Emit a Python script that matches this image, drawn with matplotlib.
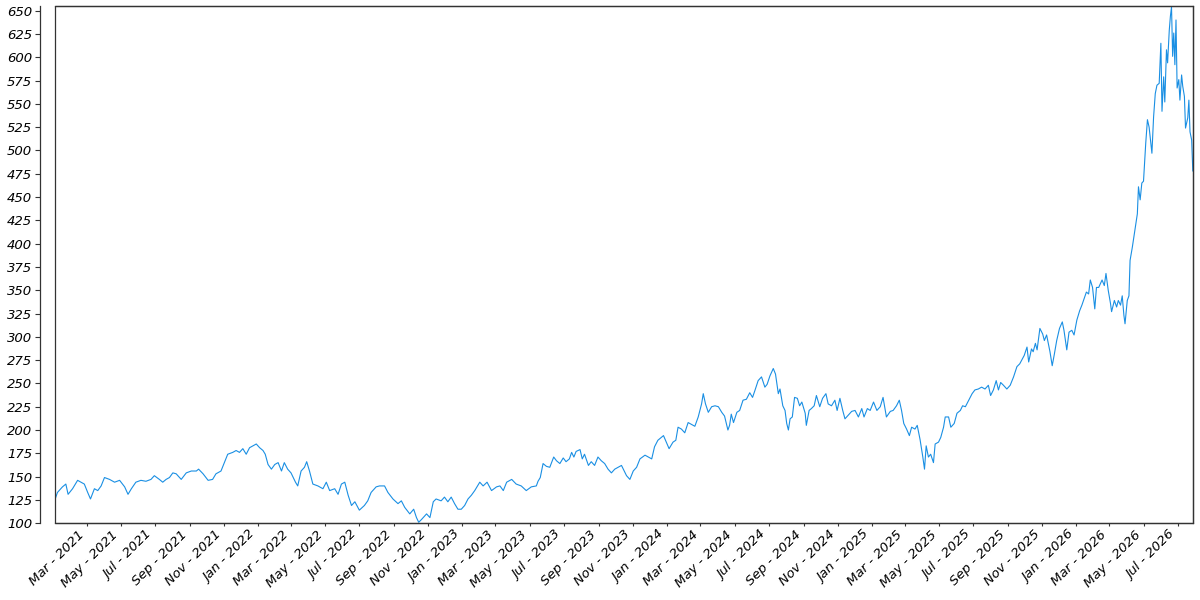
import matplotlib
matplotlib.use('Agg')
import matplotlib.pyplot as plt
import matplotlib.dates as mdates
from matplotlib.patches import Rectangle
from matplotlib.ticker import MultipleLocator
import pandas as pd

# Price readings (date, close) taken off the reference chart
dates = [
    # 2021
    '2021-01-04', '2021-01-08', '2021-01-17', '2021-01-23', '2021-01-27', '2021-02-04',
    '2021-02-13', '2021-02-19', '2021-02-25', '2021-03-03', '2021-03-08', '2021-03-15',
    '2021-03-21', '2021-03-27', '2021-04-02', '2021-04-11', '2021-04-20', '2021-04-29',
    '2021-05-08', '2021-05-14', '2021-05-20', '2021-05-28', '2021-06-06', '2021-06-15',
    '2021-06-24', '2021-06-30', '2021-07-09', '2021-07-15', '2021-07-21', '2021-07-27',
    '2021-08-02', '2021-08-08', '2021-08-17', '2021-08-26', '2021-09-04', '2021-09-13',
    '2021-09-17', '2021-09-25', '2021-10-04', '2021-10-12', '2021-10-18', '2021-10-27',
    '2021-11-02', '2021-11-08', '2021-11-17', '2021-11-23', '2021-11-29', '2021-12-05',
    '2021-12-11', '2021-12-17', '2021-12-23', '2021-12-29',
    # 2022
    '2022-01-04', '2022-01-10', '2022-01-14', '2022-01-19', '2022-01-25', '2022-01-31',
    '2022-02-06', '2022-02-12', '2022-02-17', '2022-02-23', '2022-03-01', '2022-03-09',
    '2022-03-13', '2022-03-19', '2022-03-25', '2022-03-29', '2022-04-03', '2022-04-09',
    '2022-04-18', '2022-04-27', '2022-05-03', '2022-05-09', '2022-05-18', '2022-05-24',
    '2022-05-30', '2022-06-05', '2022-06-11', '2022-06-17', '2022-06-23', '2022-07-01',
    '2022-07-10', '2022-07-16', '2022-07-22', '2022-07-31', '2022-08-06', '2022-08-15',
    '2022-08-21', '2022-08-30', '2022-09-08', '2022-09-14', '2022-09-20', '2022-09-29',
    '2022-10-06', '2022-10-11', '2022-10-15', '2022-10-20', '2022-10-29', '2022-11-04',
    '2022-11-10', '2022-11-15', '2022-11-24', '2022-11-30', '2022-12-06', '2022-12-12',
    '2022-12-18', '2022-12-24', '2022-12-30',
    # 2023
    '2023-01-05', '2023-01-11', '2023-01-17', '2023-01-23', '2023-02-01', '2023-02-07',
    '2023-02-14', '2023-02-22', '2023-03-03', '2023-03-09', '2023-03-15', '2023-03-21',
    '2023-03-30', '2023-04-07', '2023-04-16', '2023-04-25', '2023-05-04', '2023-05-13',
    '2023-05-16', '2023-05-20', '2023-05-25', '2023-05-31', '2023-06-06', '2023-06-13',
    '2023-06-18', '2023-06-24', '2023-06-30', '2023-07-05', '2023-07-11', '2023-07-15',
    '2023-07-19', '2023-07-23', '2023-07-30', '2023-08-03', '2023-08-07', '2023-08-14',
    '2023-08-19', '2023-08-25', '2023-08-31', '2023-09-06', '2023-09-12', '2023-09-18',
    '2023-09-24', '2023-09-30', '2023-10-06', '2023-10-12', '2023-10-17', '2023-10-21',
    '2023-10-27', '2023-11-02', '2023-11-08', '2023-11-14', '2023-11-23', '2023-11-29',
    '2023-12-05', '2023-12-10', '2023-12-16', '2023-12-26', '2023-12-31',
    # 2024
    '2024-01-05', '2024-01-12', '2024-01-17', '2024-01-21', '2024-01-27', '2024-02-02',
    '2024-02-08', '2024-02-14', '2024-02-20', '2024-02-26', '2024-03-03', '2024-03-06',
    '2024-03-10', '2024-03-15', '2024-03-21', '2024-03-27', '2024-04-02', '2024-04-08',
    '2024-04-13', '2024-04-19', '2024-04-22', '2024-04-25', '2024-04-29', '2024-05-05',
    '2024-05-10', '2024-05-16', '2024-05-22', '2024-05-28', '2024-06-02', '2024-06-06',
    '2024-06-12', '2024-06-18', '2024-06-24', '2024-06-28', '2024-07-03', '2024-07-09',
    '2024-07-13', '2024-07-18', '2024-07-21', '2024-07-26', '2024-07-30', '2024-08-02',
    '2024-08-05', '2024-08-08', '2024-08-12', '2024-08-16', '2024-08-21', '2024-08-25',
    '2024-08-29', '2024-09-04', '2024-09-06', '2024-09-11', '2024-09-15', '2024-09-20',
    '2024-09-24', '2024-09-30', '2024-10-05', '2024-10-11', '2024-10-15', '2024-10-21',
    '2024-10-27', '2024-10-31', '2024-11-05', '2024-11-10', '2024-11-14', '2024-11-20',
    '2024-11-26', '2024-12-02', '2024-12-08', '2024-12-14', '2024-12-18', '2024-12-24',
    '2024-12-29',
    # 2025
    '2025-01-04', '2025-01-10', '2025-01-16', '2025-01-21', '2025-01-27', '2025-02-03',
    '2025-02-08', '2025-02-14', '2025-02-19', '2025-02-23', '2025-02-27', '2025-03-04',
    '2025-03-09', '2025-03-13', '2025-03-19', '2025-03-23', '2025-03-28', '2025-04-02',
    '2025-04-05', '2025-04-08', '2025-04-12', '2025-04-16', '2025-04-21', '2025-04-24',
    '2025-04-30', '2025-05-04', '2025-05-09', '2025-05-12', '2025-05-18', '2025-05-22',
    '2025-05-28', '2025-06-02', '2025-06-08', '2025-06-12', '2025-06-17', '2025-06-23',
    '2025-06-29', '2025-07-04', '2025-07-10', '2025-07-16', '2025-07-22', '2025-07-28',
    '2025-08-01', '2025-08-06', '2025-08-11', '2025-08-15', '2025-08-19', '2025-08-24',
    '2025-08-30', '2025-09-05', '2025-09-11', '2025-09-17', '2025-09-22', '2025-09-30',
    '2025-10-05', '2025-10-08', '2025-10-13', '2025-10-16', '2025-10-20', '2025-10-23',
    '2025-10-28', '2025-11-02', '2025-11-05', '2025-11-09', '2025-11-15', '2025-11-19',
    '2025-11-23', '2025-11-27', '2025-12-02', '2025-12-07', '2025-12-10', '2025-12-15',
    '2025-12-19', '2025-12-24', '2025-12-28',
    # 2026
    '2026-01-02', '2026-01-07', '2026-01-11', '2026-01-15', '2026-01-19', '2026-01-23',
    '2026-01-26', '2026-01-30', '2026-02-03', '2026-02-06', '2026-02-10', '2026-02-16',
    '2026-02-20', '2026-02-23', '2026-02-27', '2026-03-03', '2026-03-05', '2026-03-10',
    '2026-03-14', '2026-03-17', '2026-03-21', '2026-03-24', '2026-03-27', '2026-03-29',
    '2026-04-02', '2026-04-05', '2026-04-07', '2026-04-11', '2026-04-16', '2026-04-20',
    '2026-04-22', '2026-04-25', '2026-04-28', '2026-05-01', '2026-05-05', '2026-05-08',
    '2026-05-11', '2026-05-16', '2026-05-19', '2026-05-22', '2026-05-25', '2026-05-29',
    '2026-06-01', '2026-06-03', '2026-06-06', '2026-06-08', '2026-06-11', '2026-06-13',
    '2026-06-16', '2026-06-18', '2026-06-20', '2026-06-22', '2026-06-24', '2026-06-26',
    '2026-06-28', '2026-06-30', '2026-07-03', '2026-07-05', '2026-07-08', '2026-07-10',
    '2026-07-13', '2026-07-15', '2026-07-19', '2026-07-21', '2026-07-23', '2026-07-26',
    '2026-07-28',
]

prices = [
    # 2021
    126, 133, 139, 142, 131, 137,
    146, 144, 142, 133, 126, 137,
    135, 140, 149, 147, 144, 146,
    139, 131, 137, 144, 146, 145,
    147, 151, 147, 144, 147, 149,
    154, 153, 147, 154, 156, 156,
    158, 153, 146, 147, 153, 156,
    165, 174, 176, 178, 176, 180,
    174, 181, 183, 185,
    # 2022
    181, 178, 174, 163, 158, 163,
    165, 156, 165, 158, 154, 144,
    140, 156, 160, 166, 156, 142,
    140, 137, 144, 135, 137, 131,
    142, 144, 130, 119, 123, 114,
    119, 124, 133, 139, 140, 140,
    133, 126, 121, 124, 117, 110,
    115, 106, 101, 104, 110, 106,
    123, 126, 124, 128, 123, 128,
    121, 115, 115,
    # 2023
    119, 126, 130, 135, 144, 140,
    144, 135, 139, 140, 135, 144,
    147, 142, 140, 135, 139, 140,
    145, 149, 164, 161, 160, 171,
    167, 164, 170, 166, 169, 176,
    171, 177, 179, 169, 174, 162,
    166, 162, 171, 167, 164, 158,
    154, 158, 160, 162, 156, 151,
    147, 156, 160, 169, 173, 171,
    169, 182, 189, 194, 187,
    # 2024
    180, 187, 189, 203, 201, 197,
    208, 206, 204, 214, 228, 239,
    228, 219, 225, 226, 225, 219,
    215, 200, 205, 217, 208, 219,
    221, 232, 233, 240, 235, 242,
    253, 257, 246, 249, 258, 266,
    260, 239, 244, 226, 221, 207,
    200, 212, 214, 235, 234, 226,
    230, 218, 205, 221, 223, 226,
    237, 225, 234, 239, 228, 226,
    232, 221, 234, 221, 212, 216,
    220, 221, 214, 223, 214, 223,
    221,
    # 2025
    230, 221, 225, 235, 214, 220,
    221, 226, 232, 221, 207, 201,
    194, 203, 201, 205, 190, 171,
    158, 183, 171, 174, 165, 185,
    187, 192, 203, 214, 214, 203,
    207, 218, 221, 226, 225, 232,
    239, 243, 244, 246, 244, 248,
    237, 243, 253, 243, 251, 248,
    244, 248, 257, 268, 271, 280,
    289, 273, 287, 284, 293, 286,
    309, 303, 296, 302, 284, 269,
    282, 296, 309, 316, 307, 286,
    305, 307, 302,
    # 2026
    318, 328, 334, 341, 348, 346,
    361, 353, 330, 353, 353, 361,
    355, 368, 350, 336, 327, 339,
    332, 339, 334, 344, 323, 314,
    339, 344, 382, 396, 416, 432,
    461, 447, 465, 467, 508, 533,
    525, 497, 536, 561, 570, 572,
    615, 542, 579, 552, 608, 594,
    629, 644, 654, 601, 626, 592,
    640, 567, 576, 554, 581, 569,
    558, 524, 535, 554, 520, 511,
    478,
]

LINE_COLOR = '#1a8fe3'
FRAME_COLOR = '#333333'

x = pd.to_datetime(dates)

fig = plt.figure(figsize=(12, 6), dpi=100)
ax = fig.add_axes([0.046, 0.128, 0.948, 0.862])

ax.plot(x, prices, color=LINE_COLOR, lw=0.8)

ax.set_xlim(x[0], x[-1])
ax.set_ylim(100, 655)

ax.yaxis.set_major_locator(MultipleLocator(25))
ax.xaxis.set_major_locator(mdates.MonthLocator(bymonth=[1, 3, 5, 7, 9, 11]))
ax.xaxis.set_major_formatter(mdates.DateFormatter('%b - %Y'))

# y axis pushed out to the left, box kept around the plot
ax.spines['left'].set_position(('outward', 11))
for side in ['left', 'right', 'top', 'bottom']:
    ax.spines[side].set_color(FRAME_COLOR)
    ax.spines[side].set_linewidth(0.9)
ax.add_patch(Rectangle((0, 0), 1, 1, transform=ax.transAxes, fill=False,
                       edgecolor=FRAME_COLOR, lw=0.9, clip_on=False, zorder=3))

ax.tick_params(axis='y', length=3.5, width=0.8, color=FRAME_COLOR, labelsize=9.5, pad=2)
ax.tick_params(axis='x', length=2.5, width=0.8, color=FRAME_COLOR, labelsize=9.5, pad=1)

for lab in ax.get_yticklabels():
    lab.set_fontstyle('italic')
for lab in ax.get_xticklabels():
    lab.set_fontstyle('italic')
    lab.set_rotation(45)
    lab.set_ha('right')

fig.savefig('out.png', dpi=100)
